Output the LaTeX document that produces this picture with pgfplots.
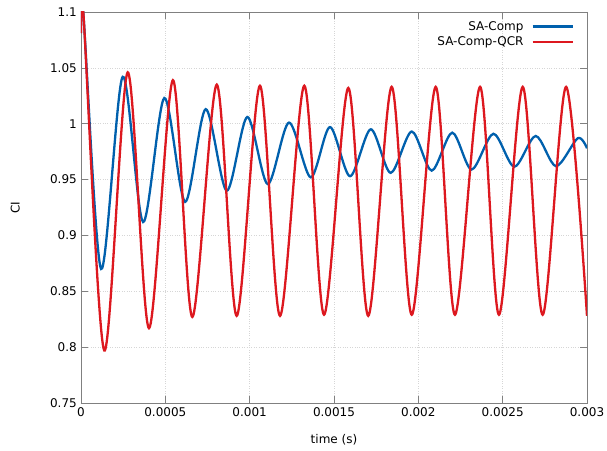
\documentclass[border=0pt]{standalone}
\usepackage{fontspec}
\setmainfont{DejaVu Sans}
\usepackage{pgfplots}
\pgfplotsset{compat=1.18}
\definecolor{sablue}{HTML}{0060AD}
\definecolor{sared}{HTML}{DD181F}
\definecolor{framegray}{HTML}{808080}
\begin{document}
\fontsize{12}{14}\selectfont
\begin{tikzpicture}
\begin{axis}[
  name=ax,
  scale only axis, width=506pt, height=391pt,
  xmin=0, xmax=0.003, ymin=0.75, ymax=1.1,
  xtick={0,0.0005,0.001,0.0015,0.002,0.0025,0.003},
  ytick={0.75,0.8,0.85,0.9,0.95,1,1.05,1.1},
  scaled x ticks=false, scaled y ticks=false,
  xticklabel style={/pgf/number format/fixed,/pgf/number format/precision=4},
  yticklabel style={/pgf/number format/fixed,/pgf/number format/precision=2},
  /pgf/number format/assume math mode=true,
  every tick label/.append style={font=\fontsize{12}{14}\selectfont},
  tick align=inside, major tick length=7pt,
  tick style={framegray, line width=0.6pt},
  axis line style={framegray, line width=0.8pt},
  grid=major, grid style={dotted, black!16, line width=0.6pt},
  xlabel={time (s)}, ylabel={CI},
  label style={font=\fontsize{12}{14}\selectfont},
  xlabel style={at={(axis description cs:0.5,-0.0946)}, anchor=center},
  ylabel style={at={(axis description cs:-0.130,0.5)}, anchor=center},
  legend style={at={(rel axis cs:1,1)}, anchor=north east, xshift=-10pt, yshift=-5pt,
    draw=none, fill=none, font=\fontsize{12}{14}\selectfont,
    legend cell align=right, row sep=0.5pt,
    /tikz/every odd column/.append style={column sep=6pt}},
  legend plot pos=right,
  legend image code/.code={\draw[#1] (0pt,0pt) -- (40pt,0pt);},
]
\addplot[sablue, line width=2.3pt, smooth] coordinates {
(0,1.081) (0.0000136,1.099) (0.000119,0.870) (0.000247,1.042) (0.000368,0.912)
(0.000494,1.023) (0.000617,0.930) (0.000739,1.013) (0.000864,0.940) (0.000986,1.006)
(0.001107,0.946) (0.001233,1.001) (0.001362,0.952) (0.001476,0.997) (0.001595,0.953)
(0.001718,0.995) (0.001836,0.956) (0.001961,0.993) (0.002079,0.958) (0.002201,0.992)
(0.002316,0.959) (0.002445,0.991) (0.002569,0.9615) (0.002696,0.989) (0.002816,0.962)
(0.002945,0.987) (0.003,0.978)
};
\addlegendentry{SA-Comp}
\addplot[sared, line width=2.3pt, smooth] coordinates {
(0,1.081) (0.0000136,1.100) (0.000138,0.797) (0.000277,1.046) (0.000403,0.817)
(0.000545,1.039) (0.000660,0.827) (0.000805,1.035) (0.000923,0.828) (0.001061,1.034)
(0.001180,0.828) (0.001324,1.034) (0.001441,0.829) (0.001585,1.032) (0.001703,0.828)
(0.001842,1.033) (0.001961,0.829) (0.002103,1.033) (0.002217,0.829) (0.002366,1.033)
(0.002478,0.829) (0.002619,1.033) (0.002737,0.829) (0.002876,1.033) (0.003,0.828)
};
\addlegendentry{SA-Comp-QCR}
\end{axis}
\pgfresetboundingbox
\path (ax.south west) ++(-81pt,-47pt) rectangle ++(607pt,450pt);
\end{tikzpicture}
\end{document}
